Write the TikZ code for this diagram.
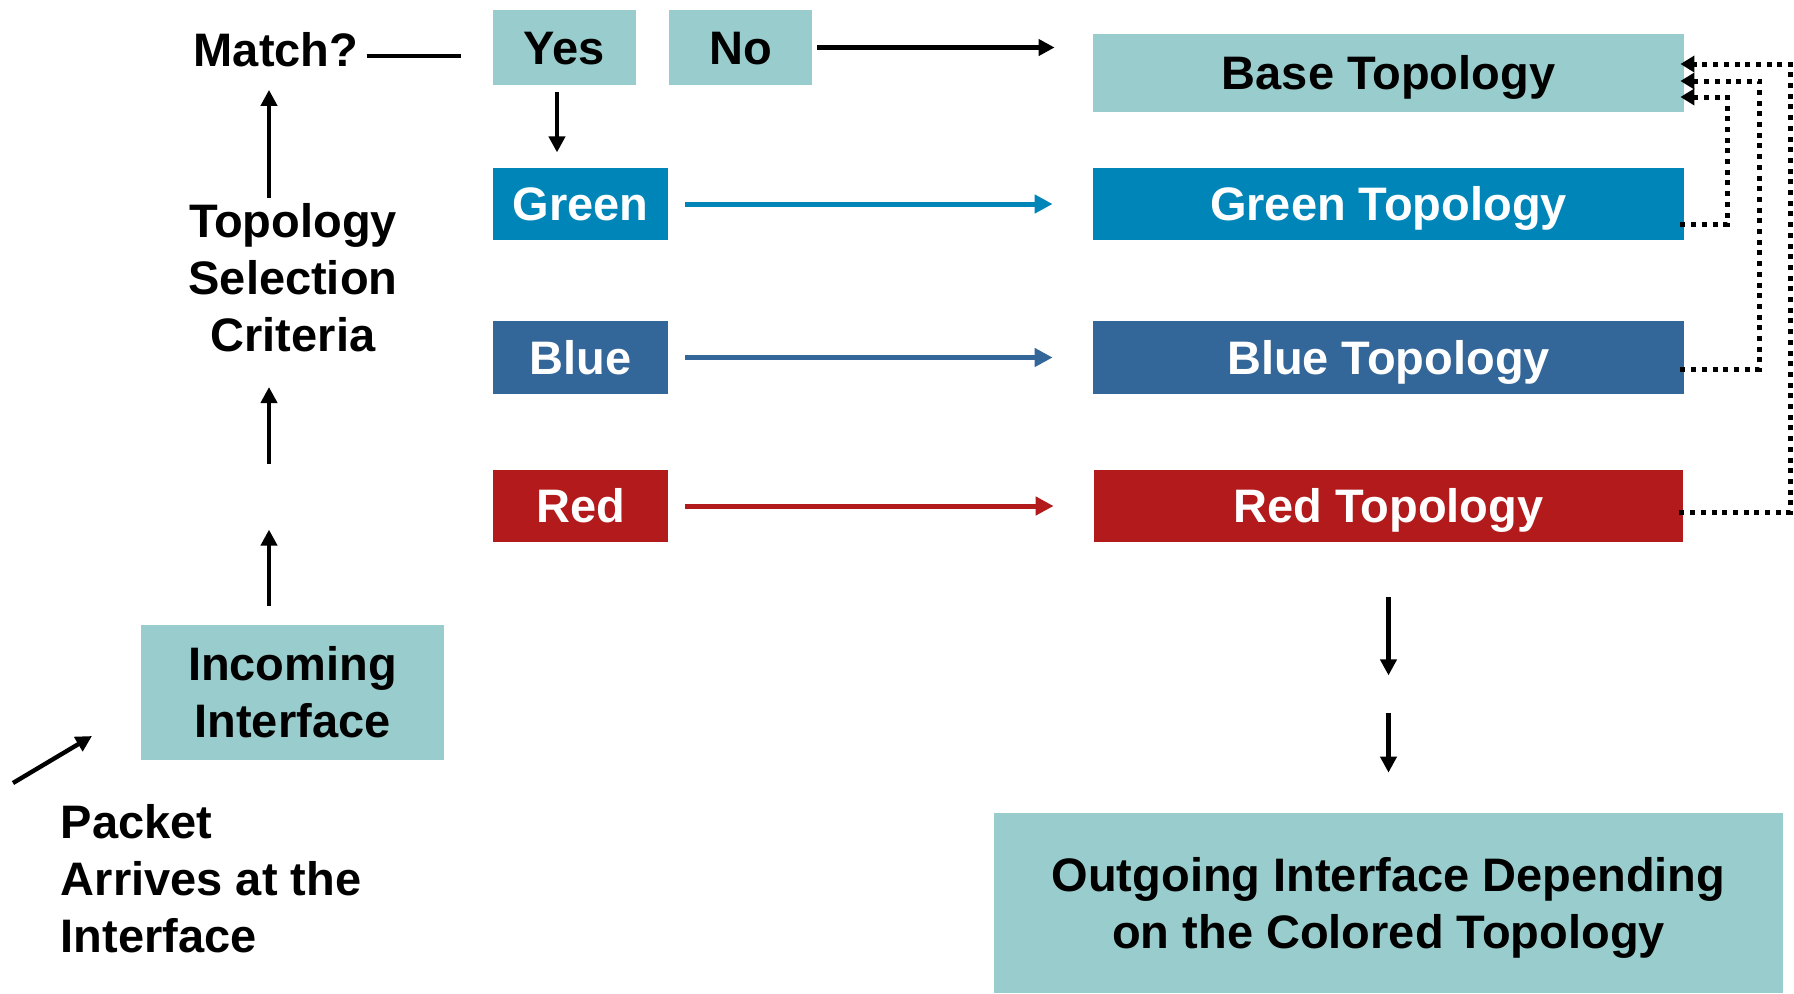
\documentclass[tikz,border=0pt]{standalone}
\usepackage{fontspec}
\setmainfont{Liberation Sans}
\usetikzlibrary{arrows.meta}
\definecolor{paleteal}{HTML}{99CCCC}
\definecolor{topogreen}{RGB}{0,133,184}
\definecolor{topoblue}{HTML}{336699}
\definecolor{topored}{RGB}{178,26,27}

\begin{document}
\begin{tikzpicture}[x=0.5pt,y=-0.5pt,
  lbl/.style={font=\fontsize{23.5}{28.5}\selectfont\bfseries, inner sep=0pt},
  tile/.style={lbl, rectangle, align=center},
  single/.style={tile, text height=16.8pt, text depth=0pt},
  blk/.style={line width=2.2pt, -{Triangle[length=8pt,width=8pt]}},
  carrow/.style={line width=2.5pt, -{Triangle[length=9pt,width=9pt]}},
  dots/.style={line width=2.5pt, dash pattern=on 2.5pt off 2.85pt,
    shorten >=-2pt, -{Triangle[length=7pt,width=8pt]}}
]
\useasboundingbox (0,0) rectangle (1794,993);

% selection boxes
\node[single, fill=paleteal, minimum width=71.5pt, minimum height=37.5pt] (yes) at (564.5,47.5) {Yes};
\node[single, fill=paleteal, minimum width=71.5pt, minimum height=37.5pt] (no) at (740.5,47.5) {No};
\node[single, fill=topogreen, text=white, minimum width=87.5pt, minimum height=36pt] (green) at (580.5,204) {Green};
\node[single, fill=topoblue, text=white, minimum width=87.5pt, minimum height=36.5pt] (blue) at (580.5,357.5) {Blue};
\node[single, fill=topored, text=white, minimum width=87.5pt, minimum height=36pt] (red) at (580.5,506) {Red};

% topologies
\node[single, fill=paleteal, minimum width=295.5pt, minimum height=39pt] (base) at (1388.5,73) {Base Topology};
\node[single, fill=topogreen, text=white, minimum width=295.5pt, minimum height=36pt] (greenT) at (1388.5,204) {Green Topology};
\node[single, fill=topoblue, text=white, minimum width=295.5pt, minimum height=36.5pt] (blueT) at (1388.5,357.5) {Blue Topology};
\node[single, fill=topored, text=white, minimum width=294.5pt, minimum height=36pt] (redT) at (1388.5,506) {Red Topology};

% interfaces
\node[tile, fill=paleteal, minimum width=151.5pt, minimum height=67.5pt] (incoming) at (292.5,692.5) {Incoming\\Interface};
\node[tile, fill=paleteal, minimum width=394.5pt, minimum height=90pt, text depth=0pt] (out) at (1388.5,903) {Outgoing Interface Depending\\on the Colored Topology};

% free labels
\node[lbl, anchor=base] (match) at (276,66) {Match?};
\node[lbl, align=center] (crit) at (293,277.5) {Topology\\Selection\\Criteria};
\node[lbl, align=left, anchor=west] (packet) at (60.5,878.5) {Packet\\Arrives at the\\Interface};

% packet entering
\coordinate (p0) at (13,783);
\coordinate (p1) at (92,736);
\draw[blk] (p0) -- (p1);

% upward flow on the left
\draw[blk] ([shift={(-11.75pt,9.5pt)}]incoming.north) -- ++(0,38pt);
\coordinate (u0) at (269,464);
\coordinate (u1) at (269,387);
\draw[blk] (u0) -- (u1);
\draw[blk] ([shift={(-12pt,2.5pt)}]crit.north) -- ([shift={(-3.5pt,-11.5pt)}]match.south);

% match decision
\draw[line width=2.2pt, shorten >=16pt] ([shift={(4pt,5pt)}]match.base east) -- ([yshift=5pt]match.base east -| yes.west);
\draw[blk] ([shift={(-3.75pt,-3.5pt)}]yes.south) -- ++(0,-30pt);
\draw[blk, shorten <=2.5pt, shorten >=19pt] (no.east) -- (no.east -| base.west);

% colour to topology
\draw[carrow, topogreen, shorten <=8.5pt, shorten >=20pt] (green.east) -- (greenT.west);
\draw[carrow, topoblue, shorten <=8.5pt, shorten >=20pt] (blue.east) -- (blueT.west);
\draw[carrow, topored, shorten <=8.5pt, shorten >=20pt] (red.east) -- (redT.west);

% fallback to the base topology
\draw[dots] ([shift={(-2pt,-10pt)}]greenT.east) -- ++(23.5pt,0) |- ([yshift=-12pt]base.east);
\draw[dots] ([shift={(-2pt,-5.75pt)}]blueT.east) -- ++(39.5pt,0) |- ([yshift=-4pt]base.east);
\draw[dots] ([shift={(-2pt,-3pt)}]redT.east) -- ++(55.5pt,0) |- ([yshift=4.5pt]base.east);

% forwarding
\draw[blk] ([yshift=-27.5pt]redT.south) -- ++(0,-39pt);
\draw[blk] ([yshift=50pt]out.north) -- ([yshift=20pt]out.north);
\end{tikzpicture}
\end{document}
